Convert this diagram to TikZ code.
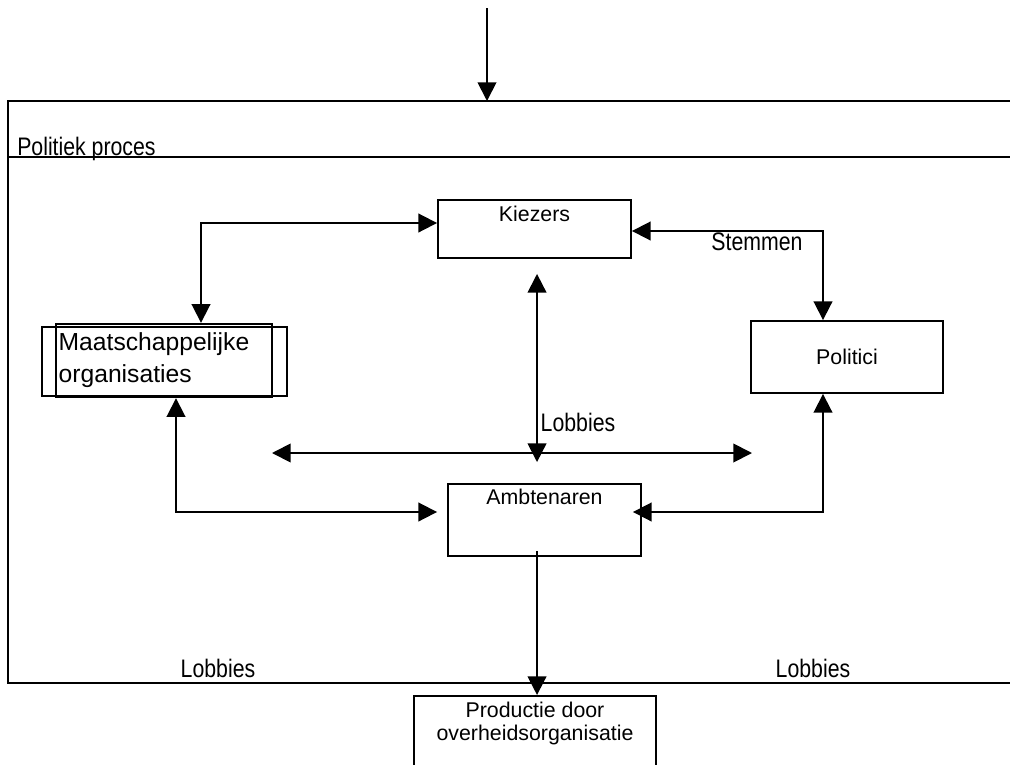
\documentclass[tikz,border=0pt]{standalone}
\usepackage{fontspec}
\setmainfont{Liberation Sans}
\usetikzlibrary{arrows.meta}

\newcommand{\smal}[1]{\scalebox{0.84}[1]{#1}}

\tikzset{
  blok/.style={draw, line width=1.4pt, inner sep=0pt, font=\fontsize{16}{19}\selectfont},
  kop/.style={anchor=north, inner sep=5pt, align=center, font=\fontsize{16}{17.5}\selectfont},
  tekst/.style={inner sep=0pt, font=\fontsize{19}{22}\selectfont},
  pijl/.style={line width=1.4pt, -{Triangle[length=14pt,width=14pt]}},
  tweepijl/.style={line width=1.4pt, {Triangle[length=14pt,width=14pt]}-{Triangle[length=14pt,width=14pt]}},
}

\begin{document}
\begin{tikzpicture}[x=0.75pt,y=-0.75pt]
	\useasboundingbox (0,0) rectangle (1010,764);
	\clip (0,0) rectangle (1010,764);

	% kader van het politiek proces
	\draw[line width=1.4pt] (1010,101) -- (8,101) -- (8,683) -- (1010,683);
	\draw[line width=1.4pt] (8,157) -- (1010,157);
	\node[tekst, anchor=base west] (proces) at (17,155) {\smal{Politiek proces}};

	\coordinate (boven) at (487,8);
	\coordinate (ingang) at (487,101);
	\draw[pijl] (boven) -- (ingang);

	% blokken
	\node[blok, minimum width=144.75pt, minimum height=43.5pt, label={[kop]north:Kiezers}] (kiezers) at (534.5,229) {};
	\node[blok, minimum width=144pt, minimum height=54pt] (politici) at (847,357) {Politici};
	\node[blok, minimum width=144.75pt, minimum height=54pt, label={[kop, inner sep=4.5pt]north:Ambtenaren}] (ambt) at (544.5,520) {};
	\node[draw, line width=1.4pt, minimum width=183.75pt, minimum height=51.75pt] (maatsbuiten) at (164.5,361.5) {};
	\node[blok, line width=1.8pt, minimum width=162pt, minimum height=54.75pt, text width=158pt, align=left, font=\fontsize{18.5}{24}\selectfont] (maats) at (164,360.5) {Maatschappelijke\\organisaties};
	\node[blok, anchor=north, minimum width=181.5pt, minimum height=80pt, label={[kop]north:Productie door\\overheidsorganisatie}] (productie) at (535,695) {};

	% verbindingen
	\draw[tweepijl] ([xshift=27.75pt]maats.north) |- ([yshift=4.5pt]kiezers.west);
	\draw[tweepijl] ([yshift=-1.5pt]kiezers.east) -| ([xshift=-18pt]politici.north);
	\node[tekst] (stemmen) at (757,242) {\smal{Stemmen}};

	\draw[tweepijl, shorten <=11.25pt, shorten >=15.75pt] ([xshift=1.9pt]kiezers.south) -- ([xshift=1.9pt]kiezers.south |- ambt.north);
	\coordinate (lobbylinks) at (272,453);
	\coordinate (lobbyrechts) at (752,453);
	\draw[tweepijl] (lobbylinks) -- (lobbyrechts);
	\node[tekst] (lobbies) at (578,422) {\smal{Lobbies}};

	\draw[tweepijl, shorten >=7.5pt] ([xshift=9pt]maats.south) |- ([yshift=6pt]ambt.west);
	\draw[tweepijl, shorten >=-6.75pt] ([xshift=-18pt]politici.south) |- ([yshift=6pt]ambt.east);

	\draw[pijl] ([xshift=-5.6pt,yshift=4.5pt]ambt.south) -- ([xshift=-5.6pt]ambt.south |- productie.north);

	\node[tekst] (lobbieslinks) at (218,668) {\smal{Lobbies}};
	\node[tekst] (lobbiesrechts) at (813,668) {\smal{Lobbies}};
\end{tikzpicture}
\end{document}
